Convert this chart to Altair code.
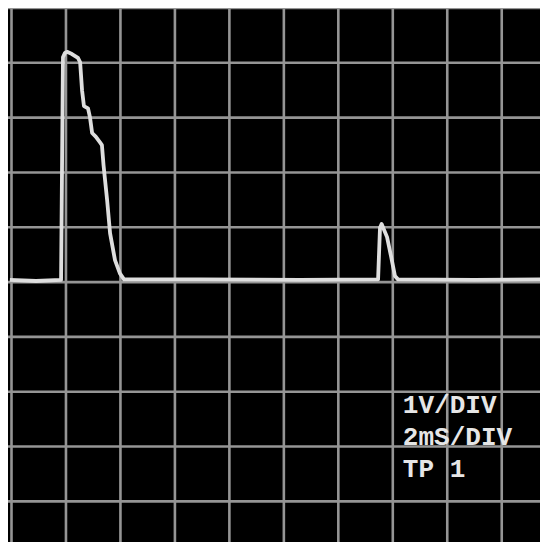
import altair as alt
import pandas as pd

# Trace: time (ms) and voltage (V)
trace_t = [-0.06, 0.9, 1.82, 1.89, 1.96, 2.04, 2.22, 2.44, 2.52, 2.59, 2.66, 2.81, 2.88, 2.96,
           3.10, 3.25, 3.32, 3.38, 3.51, 3.62, 3.80, 3.98, 4.13, 6.9, 10.6, 13.46,
           13.53, 13.59, 13.79, 13.94, 14.08, 14.19, 17.0, 19.8]
trace_v = [0.04, 0.02, 0.04, 4.10, 4.18, 4.20, 4.16, 4.09, 4.01, 3.50, 3.21, 3.17, 3.01, 2.72,
           2.65, 2.55, 2.50, 2.13, 1.50, 0.89, 0.40, 0.16, 0.05, 0.05, 0.04, 0.05,
           0.99, 1.06, 0.82, 0.46, 0.11, 0.05, 0.04, 0.05]

grid_t = [0, 2, 4, 6, 8, 10, 12, 14, 16, 18]
grid_v = [5, 4, 3, 2, 1, 0, -1, -2, -3, -4]

labels = ["1V/DIV", "2mS/DIV", "TP 1"]
label_t = [14.37, 14.37, 14.37]
label_v = [-2.39, -2.97, -3.56]

X_DOM = [-0.1285, 19.405]
Y_DOM = [-4.741, 5.0]

trace = pd.DataFrame({"t": trace_t, "v": trace_v, "order": list(range(len(trace_t)))})
vgrid = pd.DataFrame({"t": grid_t})
hgrid = pd.DataFrame({"v": grid_v})
texts = pd.DataFrame({"t": label_t, "v": label_v, "label": labels})

xs = alt.Scale(domain=X_DOM, nice=False, zero=False)
ys = alt.Scale(domain=Y_DOM, nice=False, zero=False)
GRID = "#959595"

vlines = alt.Chart(vgrid).mark_rule(color=GRID, strokeWidth=2.6).encode(
    x=alt.X("t:Q", scale=xs, axis=None)
)
hlines = alt.Chart(hgrid).mark_rule(color=GRID, strokeWidth=2.6).encode(
    y=alt.Y("v:Q", scale=ys, axis=None)
)
line = alt.Chart(trace).mark_line(color="#dedede", strokeWidth=3.8, strokeJoin="round").encode(
    x=alt.X("t:Q", scale=xs, axis=None),
    y=alt.Y("v:Q", scale=ys, axis=None),
    order="order:Q",
)
txt = alt.Chart(texts).mark_text(
    font="Liberation Mono", fontWeight="bold", fontSize=26, color="#e6e6e6",
    align="left", baseline="alphabetic"
).encode(
    x=alt.X("t:Q", scale=xs, axis=None),
    y=alt.Y("v:Q", scale=ys, axis=None),
    text="label:N",
)

chart = alt.layer(vlines, hlines, line, txt).properties(
    width=532, height=534, background="black", padding=0,
    autosize=alt.AutoSizeParams(type="none"),
).configure_view(stroke=None, fill="black")

chart.save("out.html", embed_options={"renderer": "svg", "actions": False})
